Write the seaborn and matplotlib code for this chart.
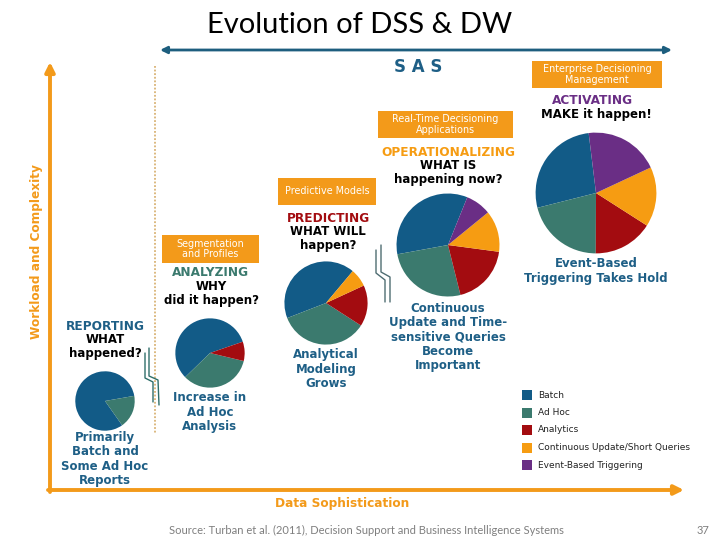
import matplotlib.pyplot as plt
import seaborn as sns
from matplotlib.patches import Rectangle

# data
segments = ["Batch", "Ad Hoc", "Analytics", "Continuous Update/Short Queries", "Event-Based Triggering"]
segment_colors = ["#125b87", "#3b7a6e", "#a30c10", "#f69c12", "#6a2e85"]

stages = ["REPORTING", "ANALYZING", "PREDICTING", "OPERATIONALIZING", "ACTIVATING"]
questions = ["WHAT\nhappened?", "WHY\ndid it happen?", "WHAT WILL\nhappen?", "WHAT IS\nhappening now?", "MAKE it happen!"]
captions = [
    "Primarily\nBatch and\nSome Ad Hoc\nReports",
    "Increase in\nAd Hoc\nAnalysis",
    "Analytical\nModeling\nGrows",
    "Continuous\nUpdate and Time-\nsensitive Queries\nBecome\nImportant",
    "Event-Based\nTriggering Takes Hold",
]
tools = ["", "Segmentation\nand Profiles", "Predictive Models", "Real-Time Decisioning\nApplications",
         "Enterprise Decisioning\nManagement"]

reporting_share = [82, 18]
analyzing_share = [57, 34, 9]
predicting_share = [42, 35, 16, 7]
operationalizing_share = [34, 26, 19, 13, 8]
activating_share = [27, 21, 16, 16, 20]
shares = [reporting_share, analyzing_share, predicting_share, operationalizing_share, activating_share]

# layout (pixels, y down)
W, H = 720, 540
pie_centers = [(105, 401), (210, 353), (326, 303), (448, 245), (596, 193)]
pie_radii = [30, 35, 42, 52, 61]
pie_starts = [10, 19, 50, 68, 97]
stage_colors = ["#1e5f86", "#3b7a6e", "#a30c10", "#f69c12", "#6a2e85"]
stage_y = [326, 273, 218, 152, 101]
stage_x = [105, 211, 328, 448, 592]
caption_y = [459, 412, 369, 337, 271]
tool_boxes = [None, (162, 235, 97, 28), (278, 178, 98, 27), (378, 111, 135, 27), (532, 61, 130, 27)]

ORANGE = "#f39a1a"
NAVY = "#1e5f86"

sns.set_theme(style="white")
plt.rcParams["font.family"] = ["DejaVu Sans"]
palette = sns.color_palette(segment_colors)

fig = plt.figure(figsize=(7.2, 5.4), dpi=100)
fig.patch.set_facecolor("white")
ax = fig.add_axes([0, 0, 1, 1])
ax.set_xlim(0, W)
ax.set_ylim(H, 0)
ax.axis("off")

ax.text(360, 25, "Evolution of DSS & DW", ha="center", va="center", fontsize=21,
        family=["Lato", "DejaVu Sans"], color="black")

# axes arrows
ax.annotate("", xy=(50, 62), xytext=(50, 492),
            arrowprops=dict(arrowstyle="-|>", color=ORANGE, lw=2.8, mutation_scale=14, shrinkA=0, shrinkB=0))
ax.annotate("", xy=(684, 490), xytext=(48, 490),
            arrowprops=dict(arrowstyle="-|>", color=ORANGE, lw=2.8, mutation_scale=14, shrinkA=0, shrinkB=0))
ax.annotate("", xy=(672, 50), xytext=(160, 50),
            arrowprops=dict(arrowstyle="<|-|>", color="#1d5e7e", lw=2, mutation_scale=10, shrinkA=0, shrinkB=0))
ax.text(418, 67, "S A S", ha="center", va="center", fontsize=12, fontweight="bold", color=NAVY)
ax.text(37, 252, "Workload and Complexity", ha="center", va="center", rotation=90,
        fontsize=8.7, fontweight="bold", color=ORANGE)
ax.text(342, 503, "Data Sophistication", ha="center", va="center", fontsize=8.7, fontweight="bold", color=ORANGE)
ax.plot([155, 155], [66, 433], color="#d9b375", lw=1.3, ls=(0, (1, 1)))

# break marks
for xs, ys, col in [
    ([145, 145, 153, 153], [353, 378, 382, 402], "#2f6f6a"),
    ([149, 149, 158, 159], [348, 376, 380, 405], "#2f6f6a"),
    ([376, 376, 385, 385], [250, 273, 280, 302], "#4f6d72"),
    ([381, 381, 390, 390], [245, 272, 277, 302], "#4f6d72"),
]:
    ax.plot(xs, ys, color=col, lw=1)

for i, stage in enumerate(stages):
    ax.text(stage_x[i], stage_y[i], stage, ha="center", va="center", fontsize=8.7,
            fontweight="bold", color=stage_colors[i])
    ax.text(stage_x[i] + (4 if i == 4 else 0), stage_y[i] + 7, questions[i], ha="center", va="top",
            fontsize=8.5, fontweight="bold", color="black", linespacing=1.1)
    ax.text(pie_centers[i][0] if i else 105, caption_y[i], captions[i], ha="center", va="center",
            fontsize=8.5, fontweight="bold", color=NAVY, linespacing=1.15)
    if tool_boxes[i]:
        bx, by, bw, bh = tool_boxes[i]
        ax.add_patch(Rectangle((bx, by), bw, bh, facecolor=ORANGE, edgecolor="none"))
        ax.text(bx + bw / 2, by + bh / 2, tools[i], ha="center", va="center", fontsize=6.9,
                color="white", linespacing=1.1)

    cx, cy = pie_centers[i]
    r = pie_radii[i]
    pax = fig.add_axes([(cx - r) / W, 1 - (cy + r) / H, 2 * r / W, 2 * r / H])
    pax.pie(shares[i], colors=palette[:len(shares[i])], startangle=pie_starts[i], counterclock=True,
            radius=1, wedgeprops=dict(linewidth=0))
    pax.set_xlim(-1.01, 1.01)
    pax.set_ylim(-1.01, 1.01)
    pax.axis("off")

# legend
for k, name in enumerate(segments):
    y = 395 + k * 17.5
    ax.add_patch(Rectangle((522, y - 5), 10, 10, facecolor=segment_colors[k], edgecolor="none"))
    ax.text(538, y, name, ha="left", va="center", fontsize=6.5, color="#222222")

ax.text(366, 530, "Source: Turban et al. (2011), Decision Support and Business Intelligence Systems",
        ha="center", va="center", fontsize=8, color="#7f7f7f", family=["Lato", "DejaVu Sans"])
ax.text(703, 530, "37", ha="center", va="center", fontsize=8, color="#7f7f7f", family=["Lato", "DejaVu Sans"])

fig.savefig("out.png", dpi=100)
